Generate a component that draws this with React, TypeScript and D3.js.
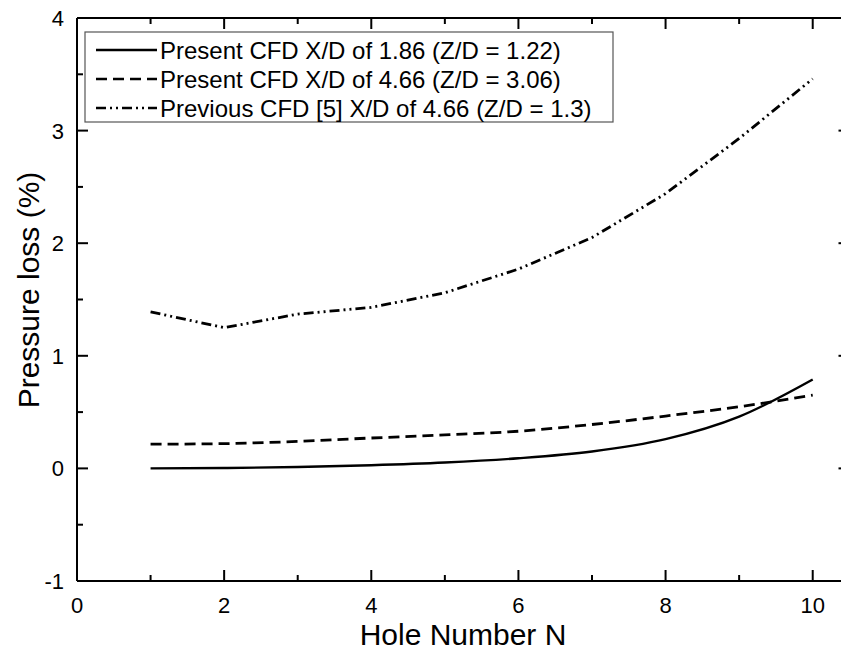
import React from "react";
import * as d3 from "d3";

const holeNumbers = [1, 2, 3, 4, 5, 6, 7, 8, 9, 10];
const presentXD186 = [0.0, 0.003, 0.012, 0.028, 0.052, 0.09, 0.15, 0.26, 0.46, 0.79];
const presentXD466 = [0.215, 0.22, 0.24, 0.27, 0.297, 0.33, 0.39, 0.465, 0.548, 0.65];
const previousXD466 = [1.39, 1.25, 1.37, 1.43, 1.56, 1.77, 2.05, 2.44, 2.93, 3.46];

const xMajorTicks = [0, 2, 4, 6, 8, 10];
const xMinorTicks = [1, 3, 5, 7, 9];
const yMajorTicks = [-1, 0, 1, 2, 3, 4];
const yMinorTicks = [-0.5, 0.5, 1.5, 2.5, 3.5];

const legendLabels = [
  "Present CFD X/D of 1.86 (Z/D = 1.22)",
  "Present CFD X/D of 4.66 (Z/D = 3.06)",
  "Previous CFD [5] X/D of 4.66 (Z/D = 1.3)",
];
const dashes = ["none", "11 6", "10 4 2 4 2 4"];

const FONT = "'Liberation Sans', Arial, sans-serif";

export default function App() {
  const left = 77, right = 849.5, top = 18, bottom = 581;
  const x = d3.scaleLinear().domain([0, 10.5]).range([left, right]);
  const y = d3.scaleLinear().domain([-1, 4]).range([bottom, top]);

  const mk = (vals: number[], curve: d3.CurveFactory) =>
    d3
      .line<number>()
      .x((_, i) => x(holeNumbers[i]))
      .y((v) => y(v))
      .curve(curve)(vals) || "";

  const series = [
    { vals: presentXD186, curve: d3.curveMonotoneX, dash: dashes[0], w: 2.4 },
    { vals: presentXD466, curve: d3.curveMonotoneX, dash: dashes[1], w: 2.8 },
    { vals: previousXD466, curve: d3.curveLinear, dash: dashes[2], w: 2.8 },
  ];

  const major = 11, minor = 6;
  const legendRows = [50, 79, 108];

  return (
    <svg
      width={841}
      height={651}
      style={{ position: "absolute", left: 0, top: 0, background: "#fff", display: "block" }}
    >
      <rect x={0} y={0} width={841} height={651} fill="#fff" />
      {series.map((s, i) => (
        <path
          key={i}
          d={mk(s.vals, s.curve)}
          fill="none"
          stroke="#000"
          strokeWidth={s.w}
          strokeDasharray={s.dash}
        />
      ))}
      <g stroke="#000" strokeWidth={2}>
        <line x1={left} x2={right} y1={top} y2={top} />
        <line x1={left} x2={right} y1={bottom} y2={bottom} />
        <line x1={left} x2={left} y1={top} y2={bottom} />
        <line x1={right} x2={right} y1={top} y2={bottom} />
        {xMajorTicks.map((t) => (
          <g key={"xM" + t}>
            <line x1={x(t)} x2={x(t)} y1={bottom} y2={bottom - major} />
            <line x1={x(t)} x2={x(t)} y1={top} y2={top + major} />
          </g>
        ))}
        {xMinorTicks.map((t) => (
          <g key={"xm" + t}>
            <line x1={x(t)} x2={x(t)} y1={bottom} y2={bottom - minor} />
            <line x1={x(t)} x2={x(t)} y1={top} y2={top + minor} />
          </g>
        ))}
        {yMajorTicks.map((t) => (
          <g key={"yM" + t}>
            <line x1={left} x2={left + major} y1={y(t)} y2={y(t)} />
            <line x1={right} x2={right - major} y1={y(t)} y2={y(t)} />
          </g>
        ))}
        {yMinorTicks.map((t) => (
          <g key={"ym" + t}>
            <line x1={left} x2={left + minor} y1={y(t)} y2={y(t)} />
            <line x1={right} x2={right - minor} y1={y(t)} y2={y(t)} />
          </g>
        ))}
      </g>
      <g fontFamily={FONT} fontSize={22} fill="#000">
        {xMajorTicks.map((t) => (
          <text key={"xl" + t} x={x(t)} y={613} textAnchor="middle">
            {t}
          </text>
        ))}
        {yMajorTicks.map((t) => (
          <text key={"yl" + t} x={64} y={y(t) + 8} textAnchor="end">
            {t}
          </text>
        ))}
      </g>
      <text x={463} y={645} textAnchor="middle" fontFamily={FONT} fontSize={30} fill="#000">
        Hole Number N
      </text>
      <text
        transform={`translate(39, 290) rotate(-90)`}
        textAnchor="middle"
        fontFamily={FONT}
        fontSize={30}
        fill="#000"
      >
        Pressure loss (%)
      </text>
      <rect x={85} y={32} width={528} height={90} fill="#fff" stroke="#555" strokeWidth={1.2} />
      {legendLabels.map((lab, i) => (
        <g key={"lg" + i}>
          <line
            x1={96}
            x2={157}
            y1={legendRows[i]}
            y2={legendRows[i]}
            stroke="#000"
            strokeWidth={i === 0 ? 2.4 : 2.6}
            strokeDasharray={dashes[i]}
          />
          <text x={160} y={legendRows[i] + 8.5} fontFamily={FONT} fontSize={24} fill="#000">
            {lab}
          </text>
        </g>
      ))}
    </svg>
  );
}
